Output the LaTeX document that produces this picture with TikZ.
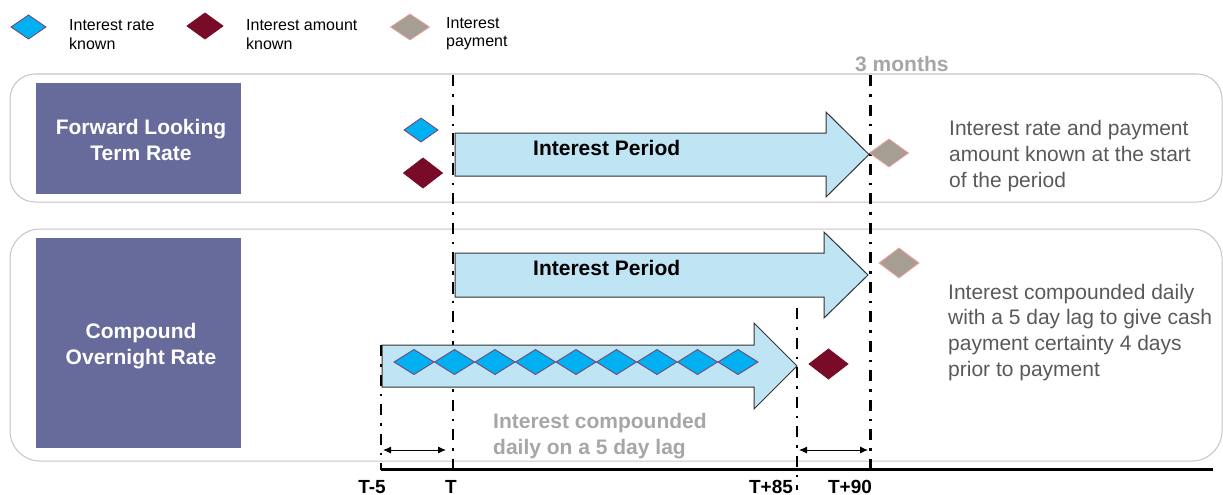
\documentclass[tikz,border=0pt]{standalone}
\usepackage{fontspec}
\setmainfont{Liberation Sans}
\usetikzlibrary{shapes.geometric,arrows.meta}
\definecolor{rateblue}{HTML}{00B0F0}
\definecolor{rateedge}{HTML}{7A3E6E}
\definecolor{amtred}{HTML}{780C28}
\definecolor{paygrey}{HTML}{A69D93}
\definecolor{payedge}{HTML}{F2A3A3}
\definecolor{panelgrey}{HTML}{C4C4C4}
\definecolor{purp}{HTML}{676B9C}
\definecolor{arrowfill}{HTML}{BFE4F4}
\definecolor{lbl}{HTML}{A6A6A6}
\definecolor{note}{HTML}{595959}
\begin{document}
\begin{tikzpicture}[x=1pt,y=-1pt,
  panel/.style={draw=panelgrey,line width=1pt},
  ratebox/.style={fill=purp,draw=none},
  dia/.style={diamond,inner sep=0pt,outer sep=0pt,line width=0.8pt},
  rate/.style={dia,fill=rateblue,draw=rateedge,minimum width=#1,minimum height=24pt},
  rate/.default=35pt,
  amount/.style={dia,fill=amtred,draw=amtred,minimum width=38pt,minimum height=28pt},
  pay/.style={dia,fill=paygrey,draw=payedge,minimum width=39pt,minimum height=28pt},
  tline/.style={line width=2.2pt,dash pattern=on 11pt off 8pt on 2.5pt off 8pt},
  bigarrow/.style={fill=arrowfill,draw=black!80,line width=1pt},
  lgd/.style={font=\fontsize{16}{19}\selectfont,align=left,inner sep=0pt,anchor=base west},
  boxtxt/.style={font=\fontsize{21}{26}\selectfont\bfseries,text=white,align=center,inner sep=0pt,anchor=base},
  period/.style={font=\fontsize{21}{26}\selectfont\bfseries,inner sep=0pt,anchor=base west},
  greylbl/.style={font=\fontsize{21}{26.7}\selectfont\bfseries,text=lbl,align=left,inner sep=0pt,anchor=base west},
  notetxt/.style={font=\fontsize{21}{26}\selectfont,text=note,align=left,inner sep=0pt,anchor=base west},
  tick/.style={font=\fontsize{19}{22}\selectfont\bfseries,inner sep=0pt,anchor=base},
  dim/.style={line width=0.9pt,{Latex[length=8pt,width=7pt]}-{Latex[length=8pt,width=7pt]}}
]
\useasboundingbox (0,0) rectangle (1223,495);

% legend (multi-line nodes: base anchor = last line)
\node[rate] (lgrate) at (28.5,27) {};
\node[lgd] (lgratetxt) at (69,50) {Interest rate\\known};
\node[amount,minimum width=36pt,minimum height=26pt] (lgamt) at (205,26) {};
\node[lgd] (lgamttxt) at (246,50) {Interest amount\\known};
\node[pay,minimum height=26pt] (lgpay) at (410,27) {};
\node[lgd,font=\fontsize{16}{18}\selectfont] (lgpaytxt) at (446,47) {Interest\\payment};

% panels
\draw[panel,rounded corners=25pt] (10,74) rectangle (1222,202);
\draw[panel,rounded corners=30pt] (10,229) rectangle (1222,461);
\fill[ratebox] (36,83) rectangle (241,194);
\fill[ratebox] (36,238) rectangle (241,448);
\node[boxtxt] (flt) at (141,160) {Forward Looking\\Term Rate};
\node[boxtxt] (cor) at (141,364) {Compound\\Overnight Rate};

% time lines
\coordinate (Ttop) at (453,75);   \coordinate (Tbot) at (453,470);
\coordinate (Mtop) at (870.5,75); \coordinate (Mbot) at (870.5,470);
\coordinate (T5top) at (381,345); \coordinate (T5bot) at (381,470);
\coordinate (T85top) at (797,308);\coordinate (T85bot) at (797,490);
\draw[tline] (Ttop) -- (Tbot);
\draw[tline] (Mtop) -- (Mbot);
\draw[tline] (T5top) -- (T5bot);
\draw[tline] (T85top) -- (T85bot);

% axis
\coordinate (axL) at (381,469); \coordinate (axR) at (1213,469);
\draw[line width=3pt] (axL) -- (axR);

% big arrows
\draw[bigarrow] (455,133) -- (826,133) -- (826,112) -- (869,154.5) -- (826,197) -- (826,176) -- (455,176) -- cycle;
\node[period] (ip1) at (533,155) {Interest Period};
\draw[bigarrow] (455,253) -- (824,253) -- (824,232) -- (868,275) -- (824,318) -- (824,297) -- (455,297) -- cycle;
\node[period] (ip2) at (533,275) {Interest Period};
\draw[bigarrow] (382,345) -- (754,345) -- (754,323) -- (797,366) -- (754,409) -- (754,387) -- (382,387) -- cycle;
\draw[tline] (381,345) -- (381,387);
\draw[tline] (453,133) -- (453,176);
\draw[tline] (453,253) -- (453,297);

% small diamonds in compounding arrow
\foreach \i in {0,...,8}{
  \node[rate=40pt,minimum height=25pt] (d\i) at ({414+40.5*\i},362) {};
}

% markers
\node[rate=34pt] (frate) at (421,130) {};
\node[amount,minimum width=39pt,minimum height=30pt] (famt) at (423,173) {};
\node[pay] (fpay) at (889,153) {};
\node[pay,minimum width=40pt,minimum height=30pt] (cpay) at (899,263) {};
\node[amount,minimum width=39pt,minimum height=30pt] (camt) at (828.5,364) {};

% lag arrows
\coordinate (lagA) at (383,450); \coordinate (lagB) at (446,450);
\coordinate (lagC) at (799,450); \coordinate (lagD) at (868,450);
\draw[dim] (lagA) -- (lagB);
\draw[dim] (lagC) -- (lagD);

% labels
\node[greylbl] (three) at (855,71) {3 months};
\node[greylbl] (lagtxt) at (493,454.7) {Interest compounded\\daily on a 5 day lag};
\node[notetxt] (note1) at (949,187) {Interest rate and payment\\amount known at the start\\of the period};
\node[notetxt,font=\fontsize{21}{25.8}\selectfont] (note2) at (948,376.4) {Interest compounded daily\\with a 5 day lag to give cash\\payment certainty 4 days\\prior to payment};

% tick labels
\node[tick] (tm5) at (372,493) {T-5};
\node[tick] (t0) at (451,493) {T};
\node[tick] (t85) at (771,493) {T+85};
\node[tick] (t90) at (850,493) {T+90};
\end{tikzpicture}
\end{document}
